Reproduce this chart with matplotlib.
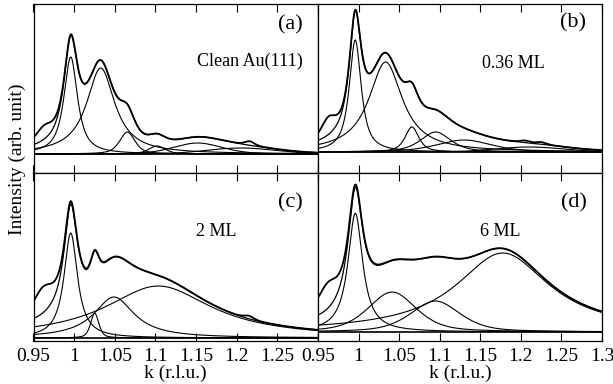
import numpy as np
import matplotlib
matplotlib.use("Agg")
import matplotlib.pyplot as plt

plt.rcParams['font.family'] = ['Liberation Serif', 'DejaVu Serif']

# ---- data ----
k_ticks = [0.95, 1.0, 1.05, 1.1, 1.15, 1.2, 1.25, 1.3]
k_ticklabels_left = ["0.95", "1", "1.05", "1.1", "1.15", "1.2", "1.25", ""]
k_ticklabels_right = ["0.95", "1", "1.05", "1.1", "1.15", "1.2", "1.25", "1.3"]
panel_tags = ["(a)", "(b)", "(c)", "(d)"]
panel_names = ["Clean Au(111)", "0.36 ML", "2 ML", "6 ML"]

# fitted components: centre (r.l.u.), height, half width, Lorentzian fraction
a_centers = [0.9958, 1.0327, 1.0654, 1.102, 1.152, 1.205]
a_heights = [97, 86, 22, 8, 11, 6]
a_widths = [0.010, 0.021, 0.011, 0.012, 0.035, 0.05]
a_eta = [0.9, 1.0, 0.6, 0.5, 0.3, 0.0]
# features of the measured curve not in the fit: centre, height, half width
a_extra_centers = [0.963, 1.216]
a_extra_heights = [14, 4]
a_extra_widths = [0.013, 0.007]

b_centers = [0.9959, 1.0333, 1.0657, 1.095, 1.13, 1.21]
b_heights = [112, 90, 25, 20, 12, 5]
b_widths = [0.0088, 0.025, 0.010, 0.022, 0.04, 0.05]
b_eta = [0.9, 1.0, 0.7, 0.6, 0.5, 0.0]
b_extra_centers = [0.963, 1.205, 1.225]
b_extra_heights = [18, 2, 2]
b_extra_widths = [0.011, 0.007, 0.007]

c_centers = [0.9958, 1.0253, 1.049, 1.1036]
c_heights = [105, 24.7, 41, 52]
c_widths = [0.010, 0.006, 0.03, 0.08]
c_eta = [1.0, 0.5, 1.0, 1.0]
c_extra_centers = [0.962, 1.215]
c_extra_heights = [26, 3]
c_extra_widths = [0.016, 0.007]

d_centers = [0.996, 1.0413, 1.0946, 1.1777]
d_heights = [118.7, 40, 31, 79]
d_widths = [0.011, 0.035, 0.036, 0.07]
d_eta = [1.0, 0.5, 0.5, 1.0]
d_extra_centers = [0.962]
d_extra_heights = [26]
d_extra_widths = [0.016]

panels = [
    (a_centers, a_heights, a_widths, a_eta, a_extra_centers, a_extra_heights, a_extra_widths),
    (b_centers, b_heights, b_widths, b_eta, b_extra_centers, b_extra_heights, b_extra_widths),
    (c_centers, c_heights, c_widths, c_eta, c_extra_centers, c_extra_heights, c_extra_widths),
    (d_centers, d_heights, d_widths, d_eta, d_extra_centers, d_extra_heights, d_extra_widths),
]
ylims = [(-18.7, 150), (-20.7, 148), (-3, 165.3), (-9, 159.3)]
tag_pos = [(0.904, 0.876), (0.899, 0.886), (0.904, 0.818), (0.901, 0.822)]
name_pos = [(0.761, 0.658), (0.688, 0.648), (0.644, 0.649), (0.641, 0.649)]


def pvoigt(x, c, h, w, eta):
    d = (x - c) / w
    lor = 1.0 / (1.0 + d ** 2)
    gau = np.exp(-np.log(2) * d ** 2)
    return h * (eta * lor + (1 - eta) * gau)


k = np.linspace(0.95, 1.3, 1401)

fig = plt.figure(figsize=(6.13, 3.84), dpi=100)
W = 613.0
H = 384.0
x0, x1, x2 = 33.5, 318.0, 602.0
y0, y1, y2 = 4.0, 172.7, 341.0
rects = [
    (x0 / W, 1 - y1 / H, (x1 - x0) / W, (y1 - y0) / H),
    (x1 / W, 1 - y1 / H, (x2 - x1) / W, (y1 - y0) / H),
    (x0 / W, 1 - y2 / H, (x1 - x0) / W, (y2 - y1) / H),
    (x1 / W, 1 - y2 / H, (x2 - x1) / W, (y2 - y1) / H),
]

for i, (cs, hs, ws, es, xc, xh, xw) in enumerate(panels):
    ax = fig.add_axes(rects[i])
    comps = [pvoigt(k, c, h, w, e) for c, h, w, e in zip(cs, hs, ws, es)]
    fit = np.sum(comps, axis=0)
    for comp in comps:
        ax.plot(k, comp, color='black', lw=0.8)
    data = fit.copy()
    for c, h, w in zip(xc, xh, xw):
        data += pvoigt(k, c, h, w, 0.5)
    ax.plot(k, fit, color='black', lw=0.9)
    ax.plot(k, data, color='black', lw=1.3)
    ax.axhline(0, color='black', lw=1.2)
    ax.set_xlim(0.95, 1.3)
    ax.set_ylim(*ylims[i])
    ax.set_yticks([])
    ax.set_xticks(k_ticks)
    ax.tick_params(axis='x', direction='in', top=True, bottom=True,
                   length=6, width=0.8, labelsize=14, pad=5)
    if i < 2:
        ax.set_xticklabels([])
    elif i == 2:
        ax.set_xticklabels(k_ticklabels_left)
        ax.set_xlabel("k (r.l.u.)", fontsize=14, labelpad=0)
    else:
        ax.set_xticklabels(k_ticklabels_right)
        ax.set_xlabel("k (r.l.u.)", fontsize=14, labelpad=0)
    for s in ax.spines.values():
        s.set_linewidth(0.9)
    ax.text(tag_pos[i][0], tag_pos[i][1], panel_tags[i], transform=ax.transAxes,
            fontsize=16, ha='center', va='center')
    ax.text(name_pos[i][0], name_pos[i][1], panel_names[i], transform=ax.transAxes,
            fontsize=13, ha='center', va='center')

fig.text(17 / W, 1 - 159 / H, "Intensity (arb. unit)", rotation=90,
         fontsize=14, ha='center', va='center')

fig.savefig("out.png", dpi=100)
